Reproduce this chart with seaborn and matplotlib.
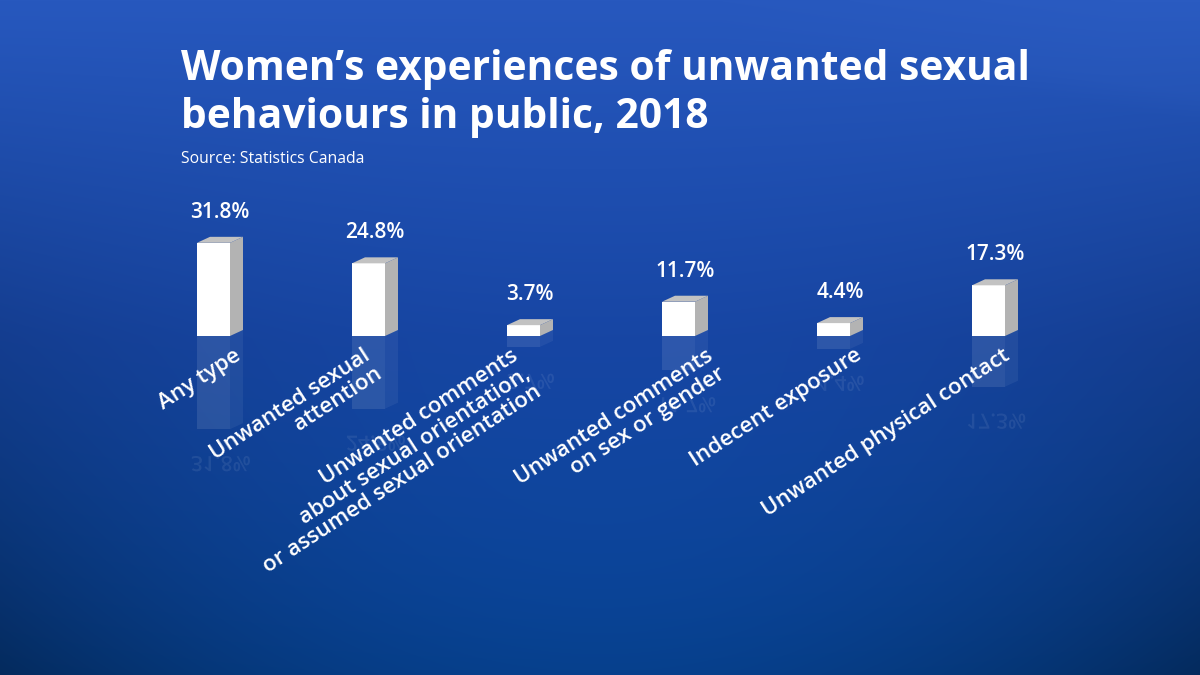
import numpy as np
import pandas as pd
import matplotlib
matplotlib.use("Agg")
import matplotlib.pyplot as plt
import seaborn as sns
from matplotlib.patches import Polygon, PathPatch
from matplotlib.textpath import TextPath
from matplotlib.font_manager import FontProperties
from matplotlib.transforms import Affine2D

# data
categories = [
    "Any type",
    "Unwanted sexual\nattention",
    "Unwanted comments\nabout sexual orientation,\nor assumed sexual orientation",
    "Unwanted comments\non sex or gender",
    "Indecent exposure",
    "Unwanted physical contact",
]
values = [31.8, 24.8, 3.7, 11.7, 4.4, 17.3]
value_labels = ["31.8%", "24.8%", "3.7%", "11.7%", "4.4%", "17.3%"]

title_lines = ["Women\u2019s experiences of unwanted sexual", "behaviours in public, 2018"]
source = "Source: Statistics Canada"

# layout tweaks (pixels): horizontal nudge of each category label
label_nudge = [20, -6, -13, 27, 21, 14]

sns.set_theme(style="white")
plt.rcParams["font.family"] = ["Open Sans", "DejaVu Sans"]

W, H = 1200, 675
fig = plt.figure(figsize=(12, 6.75), dpi=100)

# background gradient with a soft vignette at the bottom corners
bg = fig.add_axes([0, 0, 1, 1])
yy, xx = np.mgrid[0:1:340j, 0:1:600j]
top = np.array([0x27, 0x58, 0xbe]) / 255
mid = np.array([0x17, 0x46, 0xa4]) / 255
bot = np.array([0x07, 0x47, 0x9c]) / 255
t = yy[..., None]
img = np.where(t < 0.5, top + (mid - top) * (t / 0.5), mid + (bot - mid) * ((t - 0.5) / 0.5))
shade = 1 - 0.30 * np.clip(np.abs(xx - 0.5) / 0.5, 0, 1) ** 2 * yy ** 1.3 - 0.10 * yy ** 6
img = img * shade[..., None]
# faint lighter swoosh in the top right
curve = 0.06 + 0.10 * np.clip((xx - 0.62) / 0.38, 0, 1) ** 1.2
soft = np.clip((curve - yy) / 0.04 + 0.5, 0, 1)
img = img + (0.012 * soft * np.clip((xx - 0.6) * 3, 0, 1))[..., None]
bg.imshow(np.clip(img, 0, 1), extent=[0, 1, 0, 1], aspect="auto", interpolation="bilinear")
bg.set_axis_off()

# title and source
for k, line in enumerate(title_lines):
    fig.text(181 / W, 1 - (80 + 48 * k) / H, line, color="white", fontsize=29.3,
             fontweight="bold", ha="left", va="baseline")
fig.text(181 / W, 1 - 163 / H, source, color="white", fontsize=11.3, ha="left", va="baseline")

# bar axes
px_per_unit = 155.0
px_per_pct = 2.93
base_px = 336
ax_top, ax_bot, ax_left = 190, 520, 136
ax = fig.add_axes([ax_left / W, (H - ax_bot) / H, 930 / W, (ax_bot - ax_top) / H])
ax.patch.set_alpha(0)

df = pd.DataFrame({"category": categories, "value": values})
sns.barplot(data=df, x="category", y="value", color="white", saturation=1,
            width=33 / px_per_unit, ax=ax, zorder=3)

ax.set_xlim(-0.5, 5.5)
ax.set_ylim(-(ax_bot - base_px) / px_per_pct, (base_px - ax_top) / px_per_pct)
ax.set_axis_off()

ddx = 13 / px_per_unit
ddy = 6 / px_per_pct
font_val = FontProperties(family="Open Sans", weight="semibold")
y0_disp = ax.transData.transform((0, 0))[1]

for i, p in enumerate(list(ax.patches)):
    x0, w, h = p.get_x(), p.get_width(), p.get_height()
    p.set_edgecolor("none")
    # 3D faces
    ax.add_patch(Polygon([(x0 + w, 0), (x0 + w + ddx, ddy), (x0 + w + ddx, h + ddy), (x0 + w, h)],
                         closed=True, facecolor="#b3b3b3", edgecolor="none", zorder=3))
    ax.add_patch(Polygon([(x0, h), (x0 + ddx, h + ddy), (x0 + w + ddx, h + ddy), (x0 + w, h)],
                         closed=True, facecolor="#c2c2c2", edgecolor="none", zorder=3))
    # reflection
    ax.add_patch(Polygon([(x0, 0), (x0 + w, 0), (x0 + w, -h), (x0, -h)],
                         closed=True, facecolor="white", alpha=0.10, edgecolor="none", zorder=2))
    ax.add_patch(Polygon([(x0 + w, 0), (x0 + w + ddx, ddy), (x0 + w + ddx, -h + ddy), (x0 + w, -h)],
                         closed=True, facecolor="white", alpha=0.06, edgecolor="none", zorder=2))

    cx = x0 + w / 2 + ddx / 2
    ax.annotate(value_labels[i], (cx, h), xytext=(0, 18), textcoords="offset points",
                ha="center", va="baseline", color="white", fontsize=15,
                fontweight="semibold", zorder=4)

    # mirrored value label
    bx, by = ax.transData.transform((cx, h))
    by = by + 27
    tp = TextPath((0, 0), value_labels[i], size=21, prop=font_val)
    tw = tp.get_extents().width
    tr = Affine2D().translate(-tw / 2, 0).scale(1, -1).translate(bx, 2 * y0_disp - by)
    fig.add_artist(PathPatch(tr.transform_path(tp), facecolor="white", alpha=0.08,
                             edgecolor="none", transform=None))

    # category label
    ax.text(x0 + w / 2 + label_nudge[i] / px_per_unit, -9 / px_per_pct, categories[i],
            rotation=33, rotation_mode="anchor", ha="right", va="top",
            multialignment="right", color="white", fontsize=16,
            fontweight="semibold", linespacing=1.05, zorder=4)

fig.savefig("out.png", dpi=100)
